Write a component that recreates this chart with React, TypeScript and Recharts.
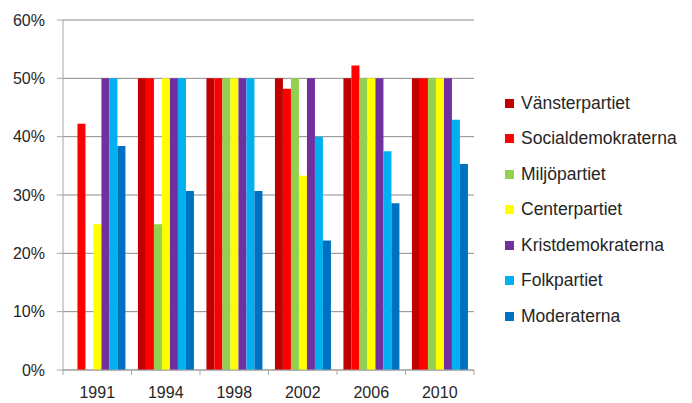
import React from 'react';
import { BarChart, Bar, XAxis, YAxis, CartesianGrid } from 'recharts';

const years = ['1991', '1994', '1998', '2002', '2006', '2010'];

const vansterpartiet = [0, 50, 50, 50, 50, 50];
const socialdemokraterna = [42.2, 50, 50, 48.2, 52.2, 50];
const miljopartiet = [0, 25, 50, 50, 50, 50];
const centerpartiet = [25, 50, 50, 33.3, 50, 50];
const kristdemokraterna = [50, 50, 50, 50, 50, 50];
const folkpartiet = [50, 50, 50, 40, 37.5, 42.9];
const moderaterna = [38.4, 30.7, 30.7, 22.2, 28.6, 35.3];

const yTicks = [0, 10, 20, 30, 40, 50, 60];

const series = [
  { key: 'v', name: 'Vänsterpartiet', color: '#C00000', values: vansterpartiet },
  { key: 's', name: 'Socialdemokraterna', color: '#FF0000', values: socialdemokraterna },
  { key: 'mp', name: 'Miljöpartiet', color: '#92D050', values: miljopartiet },
  { key: 'c', name: 'Centerpartiet', color: '#FFFF00', values: centerpartiet },
  { key: 'kd', name: 'Kristdemokraterna', color: '#7030A0', values: kristdemokraterna },
  { key: 'fp', name: 'Folkpartiet', color: '#00B0F0', values: folkpartiet },
  { key: 'm', name: 'Moderaterna', color: '#0070C0', values: moderaterna },
];

const chartData = years.map((year, i) => {
  const row: Record<string, string | number> = { year };
  series.forEach(s => {
    row[s.key] = s.values[i];
  });
  return row;
});

const FONT = '"Liberation Sans", Arial, sans-serif';
const BAND = 68.5; // width of one category on the x axis

// year label in the middle, tick mark on the category boundary (like Excel)
const YearTick = (props: any) => {
  const { x, y, payload, index } = props;
  return (
    <g>
      <line x1={x - BAND / 2} y1={y - 8} x2={x - BAND / 2} y2={y - 3} stroke="#A6A6A6" />
      {index === years.length - 1 && (
        <line x1={x + BAND / 2} y1={y - 8} x2={x + BAND / 2} y2={y - 3} stroke="#A6A6A6" />
      )}
      <text x={x} y={y + 20} textAnchor="middle" fontSize={16} fill="#262626" fontFamily={FONT}>
        {payload.value}
      </text>
    </g>
  );
};

const App: React.FC = () => {
  return (
    <div style={{ position: 'absolute', left: 0, top: 0, width: 692, height: 403, background: '#fff' }}>
      <BarChart
        width={692}
        height={403}
        data={chartData}
        barGap={0}
        barCategoryGap="9.4%"
        margin={{ top: 20, right: 218, left: 0, bottom: 0 }}
      >
        <CartesianGrid vertical={false} stroke="#8C8C8C" />
        <XAxis
          dataKey="year"
          height={33}
          stroke="#A6A6A6"
          tickLine={false}
          tick={<YearTick />}
          interval={0}
        />
        <YAxis
          domain={[0, 60]}
          ticks={yTicks}
          width={63}
          stroke="#A6A6A6"
          tickSize={6}
          tickMargin={12}
          tickFormatter={(v: number) => `${v}%`}
          tick={{ fontSize: 16, fill: '#262626', fontFamily: FONT }}
        />
        <YAxis yAxisId="border" orientation="right" width={0} tick={false} stroke="#BFBFBF" />
        {series.map(s => (
          <Bar key={s.key} dataKey={s.key} name={s.name} fill={s.color} isAnimationActive={false} />
        ))}
      </BarChart>
      {series.map((s, i) => (
        <div
          key={s.key}
          style={{
            position: 'absolute',
            left: 505,
            top: 103 + i * 35.5 - 11,
            height: 22,
            display: 'flex',
            alignItems: 'center',
            fontFamily: FONT,
            fontSize: 17.5,
            color: '#262626',
            whiteSpace: 'nowrap',
          }}
        >
          <span style={{ display: 'inline-block', width: 9, height: 9, background: s.color, marginRight: 7 }} />
          {s.name}
        </div>
      ))}
    </div>
  );
};

export default App;
